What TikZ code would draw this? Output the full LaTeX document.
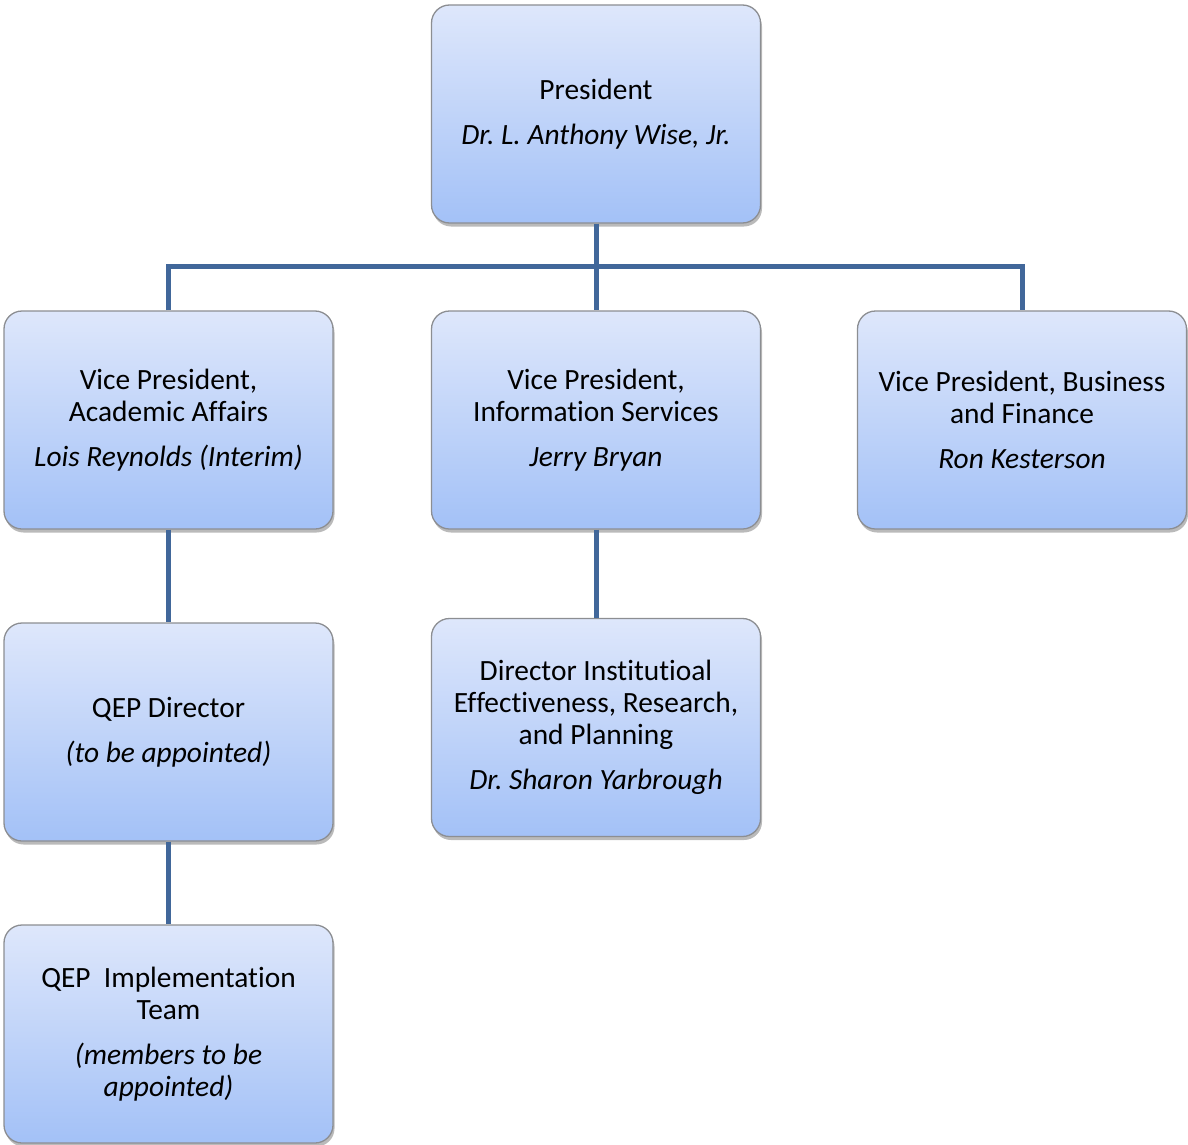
\documentclass[tikz,border=0pt]{standalone}
\usepackage{fontspec}
\setmainfont{Carlito}[Ligatures={TeX,NoCommon}]
\frenchspacing
\usetikzlibrary{shadows}
\definecolor{topc}{HTML}{DEE7FB}
\definecolor{botc}{HTML}{A3C1F7}
\definecolor{edgec}{HTML}{8C8E92}
\definecolor{linec}{HTML}{41679A}
\newcommand\nolig{\kern0pt }
\tikzset{
  orgbox/.style={rectangle, rounded corners=18pt, draw=edgec, line width=1.3pt,
    top color=topc, bottom color=botc, minimum width=329pt, minimum height=218pt,
    inner sep=0pt, align=center, font=\fontsize{29.4}{32}\selectfont,
    drop shadow={shadow xshift=1.5pt, shadow yshift=-3.5pt, opacity=0.45, fill=black!60}},
  conn/.style={draw=linec, line width=5pt}
}
\begin{document}
\begin{tikzpicture}[x=1pt,y=-1pt]
\useasboundingbox (0,0) rectangle (1188,1145);
\node[orgbox] (pres) at (596,114) {President\\[13pt]\textit{Dr. L. Anthony Wise, Jr.}};
\node[orgbox] (vpa) at (168.5,420) {Vice President,\\Academic Af\nolig fairs\\[13pt]\textit{Lois Reynolds (Interim)}};
\node[orgbox] (vpi) at (596,420) {Vice President,\\Information Services\\[13pt]\textit{Jerry Bryan}};
\node[orgbox] (vpb) at (1022,420) {Vice President, Business\\and Finance\\[13pt]\textit{Ron Kesterson}};
\node[orgbox] (qepd) at (168.5,732) {QEP Director\\[13pt]\textit{(to be appointed)}};
\node[orgbox] (dir) at (596,727.5) {Director Inst\nolig itut\nolig ioal\\Ef\nolig fect\nolig iveness, Research,\\and Planning\\[13pt]\textit{Dr. Sharon Yarbrough}};
\node[orgbox] (team) at (168.5,1034) {QEP\ \ Implementation\\Team\\[13pt]\textit{(members to be}\\\textit{appointed)}};
\coordinate (bar) at (596,266);
\draw[conn] (pres.south) -- (vpi.north);
\draw[conn] (vpa.north) |- (bar) -| (vpb.north);
\draw[conn] (vpa.south) -- (qepd.north);
\draw[conn] (qepd.south) -- (team.north);
\draw[conn] (vpi.south) -- (dir.north);
\end{tikzpicture}
\end{document}
